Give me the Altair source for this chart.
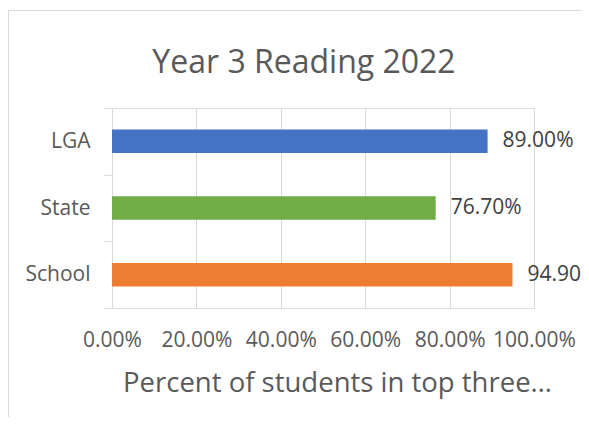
import altair as alt
import pandas as pd

categories = ["LGA", "State", "School"]
values = [0.890, 0.767, 0.949]
colors = ["#4472C4", "#70AD47", "#ED7D31"]
tick_values = [0.0, 0.2, 0.4, 0.6, 0.8, 1.0]
title_text = "Year 3 Reading 2022"
x_title = "Percent of students in top three…"

df = pd.DataFrame({"category": categories, "value": values, "color": colors})

FONT = "Open Sans"
TXT = "#595959"
GRID = "#D9D9D9"

base = alt.Chart(df)

y_enc = alt.Y(
    "category:N",
    sort=categories,
    scale=alt.Scale(paddingInner=0, paddingOuter=0),
    axis=alt.Axis(
        title=None,
        labelFont=FONT,
        labelFontSize=21,
        labelColor=TXT,
        labelPadding=14,
        tickSize=8,
        tickColor=GRID,
        domainColor=GRID,
        tickBand="extent",
        grid=False,
    ),
)

x_enc = alt.X(
    "value:Q",
    scale=alt.Scale(domain=[0, 1], nice=False),
    axis=alt.Axis(
        values=tick_values,
        format=".2%",
        labelFont=FONT,
        labelFontSize=21,
        labelColor=TXT,
        labelPadding=21,
        labelOverlap=False,
        labelFlush=False,
        ticks=False,
        domain=False,
        grid=True,
        gridColor=GRID,
        gridWidth=1,
        title=x_title,
        titleFont=FONT,
        titleFontSize=27.5,
        titleFontWeight="normal",
        titleColor=TXT,
        titlePadding=19,
        titleX=225,
    ),
)

border = alt.Chart(pd.DataFrame({"a": [0]})).mark_rect(
    fill=None, stroke=GRID, strokeWidth=1
).encode(
    x=alt.value(-103.5), y=alt.value(-97.5), x2=alt.value(700), y2=alt.value(500)
)

title = alt.Chart(pd.DataFrame({"t": [title_text]})).mark_text(
    font=FONT, fontSize=32, color=TXT, align="center", baseline="alphabetic"
).encode(
    text="t:N", x=alt.value(192), y=alt.value(-35)
)

bars = base.mark_bar(size=23.5).encode(
    y=y_enc,
    x=x_enc,
    color=alt.Color("color:N", scale=None),
)

labels = base.mark_text(
    align="left", baseline="middle", dx=15, font=FONT, fontSize=21, color="#404040"
).encode(
    y=alt.Y("category:N", sort=categories),
    x=alt.X("value:Q"),
    text=alt.Text("value:Q", format=".2%"),
)

chart = (
    alt.layer(border, title, bars, labels)
    .properties(
        width=422,
        height=200,
        autosize=alt.AutoSizeParams(type="none"),
        padding={"left": 104, "top": 100, "right": 47, "bottom": 109},
    )
    .configure_view(stroke=None)
    .configure(background="white")
)

chart.save("out.html", embed_options={"renderer": "svg", "actions": False})
